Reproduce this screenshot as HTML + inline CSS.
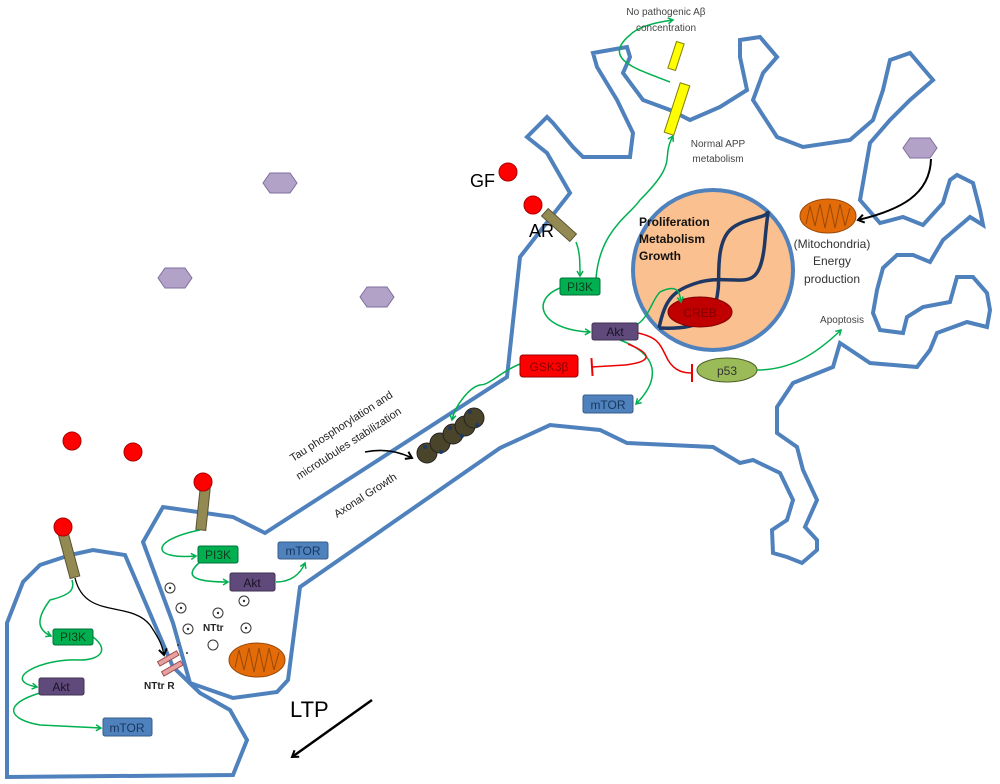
<!DOCTYPE html>
<html><head><meta charset="utf-8"><style>
html,body{margin:0;padding:0;background:#fff}
svg{display:block}
text{font-family:"Liberation Sans",sans-serif}
</style></head><body>
<svg width="1000" height="784" viewBox="0 0 1000 784" xmlns="http://www.w3.org/2000/svg">
<defs>
<marker id="ga" markerWidth="8" markerHeight="8" refX="6" refY="4" orient="auto" markerUnits="userSpaceOnUse"><path d="M1,1 L6,4 L1,7" fill="none" stroke="#00b050" stroke-width="1.5"/></marker>
<marker id="ka" markerWidth="10" markerHeight="10" refX="7" refY="5" orient="auto" markerUnits="userSpaceOnUse"><path d="M1,1 L7,5 L1,9" fill="none" stroke="#000" stroke-width="2"/></marker>
<marker id="bar" markerWidth="4" markerHeight="20" refX="2" refY="10" orient="auto" markerUnits="userSpaceOnUse"><path d="M2,1 L2,19" stroke="#e00" stroke-width="2"/></marker>
<g id="mito"><ellipse cx="0" cy="0" rx="28" ry="17" fill="#e36c09" stroke="#984807" stroke-width="1"/><path d="M-22,8 L-18,-10 L-13,10 L-8,-12 L-3,12 L2,-12 L7,12 L12,-12 L17,10 L22,-8" fill="none" stroke="#984807" stroke-width="1"/></g>
<polygon id="hex" points="-10,-10 10,-10 17,0 10,10 -10,10 -17,0" fill="#b3a2c7" stroke="#7f6f9f" stroke-width="1"/>
</defs>
<g fill="none" stroke="#4f81bd" stroke-width="4" stroke-linejoin="miter">
<!-- main neuron -->
<path d="M265,533 L507,377 L520,257 L570,193 L547,153 L527,137 L537,127 L547,117 L553,123 L573,147 L583,157 L630,157 L633,133 L617,100 L597,67 L593,53 L610,50 L627,47 L630,57 L623,73 L643,100 L670,110 L690,120 L720,107 L747,90 L740,57 L740,40 L760,37 L777,57 L763,73 L753,100 L777,137 L803,147 L850,140 L873,120 L883,90 L890,60 L910,53 L933,80 L910,100 L890,120 L870,143 L867,160 L860,200 L880,223 L903,217 L923,225 L943,203 L950,180 L957,175 L973,183 L980,210 L983,225 L970,217 L943,240 L930,262 L913,255 L897,255 L883,268 L877,290 L873,313 L880,330 L903,333 L907,317 L923,307 L950,302 L957,277 L973,277 L987,293 L990,310 L987,327 L967,322 L937,333 L930,350 L917,367 L870,363 L840,343 L833,367 L793,383 L777,407 L777,433 L797,447 L803,470 L817,500 L805,527 L817,540 L817,550 L802,563 L787,557 L773,553 L772,530 L787,520 L793,500 L780,473 L753,460 L740,463 L713,447 L627,443 L600,430 L550,425 L500,448 L300,587 L288,680 L277,692 L233,698 L190,683 L173,623 L143,542 L163,507 L233,517 Z"/>
<!-- left cell -->
<path d="M7,777 L7,623 L23,582 L40,565 L70,555 L93,550 L125,555 L173,667 L200,693 L230,710 L247,740 L233,775 Z"/>
</g>
<!-- nucleus -->
<circle cx="713" cy="270" r="80" fill="#fac08f" stroke="#4f81bd" stroke-width="4"/>
<path d="M659,328 C665,300 672,290 700,282 C740,272 760,300 765,240 C768,205 770,212 765,215 C760,218 740,220 730,230 C715,245 720,280 718,290 C715,320 700,330 659,328" fill="none" stroke="#1f3864" stroke-width="3.5"/>
<ellipse cx="700" cy="312" rx="32" ry="15" fill="#c00000" stroke="#7f0000"/>
<text x="700" y="317" font-size="12" fill="#7f0000" text-anchor="middle">CREB</text>
<g font-weight="bold" font-size="12" fill="#111"><text x="639" y="226">Proliferation</text><text x="639" y="243">Metabolism</text><text x="639" y="260">Growth</text></g>
<!-- yellow bars -->
<rect x="672" y="42" width="8" height="28" fill="#ffff00" stroke="#7f7f00" transform="rotate(18 676 56)"/>
<rect x="672" y="83" width="10" height="52" fill="#ffff00" stroke="#7f7f00" transform="rotate(18 677 109)"/>
<!-- receptors -->
<rect x="540" y="220" width="38" height="10" fill="#938953" stroke="#5a5432" transform="rotate(42 559 225)"/>
<circle cx="533" cy="205" r="9" fill="#f00" stroke="#a00"/>
<circle cx="508" cy="172" r="9" fill="#f00" stroke="#a00"/>
<circle cx="72" cy="441" r="9" fill="#f00" stroke="#a00"/>
<circle cx="133" cy="452" r="9" fill="#f00" stroke="#a00"/>
<rect x="198" y="488" width="10" height="42" fill="#938953" stroke="#5a5432" transform="rotate(6 203 509)"/>
<circle cx="203" cy="482" r="9" fill="#f00" stroke="#a00"/>
<rect x="64" y="533" width="10" height="45" fill="#938953" stroke="#5a5432" transform="rotate(-15 69 555)"/>
<circle cx="63" cy="527" r="9" fill="#f00" stroke="#a00"/>
<!-- hexagons -->
<use href="#hex" x="280" y="183"/><use href="#hex" x="175" y="278"/><use href="#hex" x="377" y="297"/><use href="#hex" x="920" y="148"/>
<!-- mitochondria -->
<use href="#mito" x="828" y="216"/><use href="#mito" x="257" y="660"/>
<path d="M931,159 C930,195 900,210 858,220" fill="none" stroke="#000" stroke-width="2" marker-end="url(#ka)"/>
<!-- green connectors -->
<g fill="none" stroke="#00b050" stroke-width="1.5" marker-end="url(#ga)">
<path d="M576,242 C580,252 580,262 580,276"/>
<path d="M596,278 C600,230 630,215 640,200 C680,160 660,160 673,136"/>
<path d="M670,82 C640,70 600,60 630,35 C640,25 660,22 673,20"/>
<path d="M560,288 C530,300 540,330 590,332"/>
<path d="M638,324 C650,315 652,300 660,292 C680,282 680,296 681,302"/>
<path d="M620,340 C660,355 660,380 636,404"/>
<path d="M757,370 C790,370 815,355 841,330"/>
<path d="M520,364 C500,372 490,385 480,385 C470,387 455,405 452,420"/>
<path d="M200,530 C150,540 150,560 196,556"/>
<path d="M200,562 C185,575 190,582 228,582"/>
<path d="M276,582 C290,582 300,575 305,563"/>
<path d="M72,580 C75,590 70,595 50,600 C35,620 38,630 51,636"/>
<path d="M93,637 C110,650 100,660 80,660 C40,658 0,680 37,687"/>
<path d="M40,693 C0,705 10,720 40,725 L101,728"/>
</g>
<!-- red inhibitors -->
<g fill="none" stroke="#e00" stroke-width="1.5">
<path d="M628,344 C655,355 650,362 625,365 L592,367" marker-end="url(#bar)"/>
<path d="M638,333 C660,338 660,345 668,360 C675,372 685,373 692,373" marker-end="url(#bar)"/>
</g>
<!-- boxes -->
<g font-size="12" text-anchor="middle">
<rect x="560" y="278" width="40" height="17" rx="2" fill="#00b050" stroke="#00703a"/><text x="580" y="291" fill="#0b3d1e">PI3K</text>
<rect x="592" y="323" width="46" height="17" rx="2" fill="#604a7b" stroke="#3f3151"/><text x="615" y="336" fill="#1a1228">Akt</text>
<rect x="520" y="355" width="58" height="22" rx="3" fill="#f00" stroke="#900"/><text x="549" y="371" fill="#800">GSK3β</text>
<rect x="583" y="395" width="50" height="18" rx="2" fill="#4f81bd" stroke="#385d8a"/><text x="608" y="409" fill="#17375e">mTOR</text>
<ellipse cx="727" cy="370" rx="30" ry="12" fill="#9bbb59" stroke="#4f6228"/><text x="727" y="375" fill="#333">p53</text>
<rect x="198" y="546" width="40" height="17" rx="2" fill="#00b050" stroke="#00703a"/><text x="218" y="559" fill="#0b3d1e">PI3K</text>
<rect x="230" y="573" width="45" height="18" rx="2" fill="#604a7b" stroke="#3f3151"/><text x="252" y="587" fill="#1a1228">Akt</text>
<rect x="278" y="542" width="50" height="17" rx="2" fill="#4f81bd" stroke="#385d8a"/><text x="303" y="555" fill="#17375e">mTOR</text>
<rect x="53" y="629" width="40" height="16" rx="2" fill="#00b050" stroke="#00703a"/><text x="73" y="641" fill="#0b3d1e">PI3K</text>
<rect x="39" y="678" width="45" height="17" rx="2" fill="#604a7b" stroke="#3f3151"/><text x="61" y="691" fill="#1a1228">Akt</text>
<rect x="103" y="718" width="49" height="18" rx="2" fill="#4f81bd" stroke="#385d8a"/><text x="127" y="732" fill="#17375e">mTOR</text>
</g>
<!-- microtubules -->
<g fill="#4a452a" stroke="#222" stroke-width="1">
<circle cx="427" cy="453" r="10"/><circle cx="440" cy="443" r="10"/><circle cx="453" cy="434" r="10"/><circle cx="465" cy="426" r="10"/><circle cx="474" cy="418" r="10"/>
</g>
<g fill="#1f3864"><circle cx="425" cy="447" r="2"/><circle cx="441" cy="452" r="2"/><circle cx="450" cy="428" r="2"/><circle cx="462" cy="436" r="2"/><circle cx="470" cy="412" r="2"/><circle cx="477" cy="425" r="2"/></g>
<path d="M365,452 C385,448 400,452 412,458" fill="none" stroke="#000" stroke-width="1.5" marker-end="url(#ka)"/>
<!-- vesicles -->
<g fill="#fff" stroke="#333" stroke-width="1"><circle cx="170" cy="588" r="5"/><circle cx="181" cy="608" r="5"/><circle cx="188" cy="629" r="5"/><circle cx="213" cy="645" r="5"/><circle cx="218" cy="613" r="5"/><circle cx="244" cy="601" r="5"/><circle cx="246" cy="628" r="5"/></g>
<g fill="#333"><circle cx="170" cy="588" r="1.2"/><circle cx="181" cy="608" r="1.2"/><circle cx="188" cy="629" r="1.2"/><circle cx="218" cy="613" r="1.2"/><circle cx="244" cy="601" r="1.2"/><circle cx="246" cy="628" r="1.2"/><circle cx="178" cy="645" r="1"/><circle cx="187" cy="653" r="1"/><circle cx="180" cy="663" r="1"/></g>
<text x="203" y="631" font-size="10" font-weight="bold" fill="#222">NTtr</text>
<!-- NTtr R -->
<rect x="157" y="656" width="22" height="5" fill="#e6a0a0" stroke="#a05050" transform="rotate(-30 168 658)"/>
<rect x="161" y="666" width="22" height="5" fill="#e6a0a0" stroke="#a05050" transform="rotate(-30 172 668)"/>
<text x="144" y="689" font-size="10" font-weight="bold" fill="#222">NTtr R</text>
<path d="M75,578 C85,620 130,600 150,625 C160,640 162,645 164,655" fill="none" stroke="#000" stroke-width="1.3" marker-end="url(#ka)"/>
<!-- LTP -->
<text x="290" y="717" font-size="22" fill="#000">LTP</text>
<path d="M372,700 L292,757" stroke="#000" stroke-width="2.5" marker-end="url(#ka)"/>
<!-- labels -->
<text x="470" y="187" font-size="18" fill="#000">GF</text>
<text x="529" y="237" font-size="18" fill="#000">AR</text>
<g font-size="10" fill="#444" text-anchor="middle">
<text x="666" y="15">No pathogenic Aβ</text><text x="666" y="31">concentration</text>
<text x="718" y="147">Normal APP</text><text x="718" y="162">metabolism</text>
<text x="842" y="323">Apoptosis</text>
</g>
<g font-size="12" fill="#333" text-anchor="middle">
<text x="832" y="248">(Mitochondria)</text><text x="832" y="265">Energy</text><text x="832" y="283">production</text>
</g>
<g font-size="11" fill="#222">
<text x="0" y="0" transform="translate(293,462) rotate(-33)">Tau phosphorylation and</text>
<text x="0" y="0" transform="translate(299,480) rotate(-33)">microtubules stabilization</text>
<text x="0" y="0" transform="translate(337,518) rotate(-33)">Axonal Growth</text>
</g>
</svg>
</body></html>
